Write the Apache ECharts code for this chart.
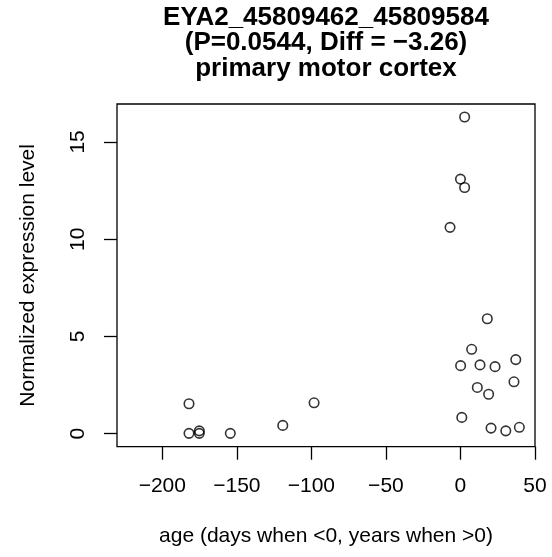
<!DOCTYPE html>
<html>
<head>
<meta charset="utf-8">
<script src="https://cdn.jsdelivr.net/npm/echarts@6/dist/echarts.min.js"></script>
<style>html,body{margin:0;padding:0;background:#fff}#c{width:552px;height:557px}</style>
</head>
<body>
<div id="c"></div>
<script>
var titleLines = ["EYA2_45809462_45809584", "(P=0.0544, Diff = \u22123.26)", "primary motor cortex"];
var xName = "age (days when <0, years when >0)";
var yName = "Normalized expression level";
var ages = [-182.1, -182.1, -175.2, -175.2, -154.4, -119.2, -98.2, 2.8, 0.0, 2.8, -7.0, 18.0, 7.5, 0.1, 13.1, 23.2, 37.1, 11.3, 18.9, 35.9, 0.9, 20.5, 30.4, 39.5];
var expr = [1.54, 0.02, 0.15, 0.02, 0.02, 0.43, 1.59, 16.28, 13.09, 12.66, 10.61, 5.91, 4.34, 3.50, 3.54, 3.45, 3.81, 2.38, 2.03, 2.67, 0.84, 0.29, 0.15, 0.33];
var xTicks = [-200, -150, -100, -50, 0, 50];
var yTicks = [0, 5, 10, 15];

var points = ages.map(function (a, i) { return [a, expr[i]]; });
var fmt = function (v) { return v < 0 ? "\u2212" + Math.abs(v) : String(v); };
var font = "Liberation Sans, Arial, Helvetica, sans-serif";

var chart = echarts.init(document.getElementById('c'), null, { renderer: 'canvas' });
chart.setOption({
  animation: false,
  backgroundColor: '#fff',
  textStyle: { fontFamily: font },
  title: {
    text: titleLines.join('\n'),
    left: 326, top: 5, padding: 0, textAlign: 'center',
    textStyle: { fontFamily: font, fontSize: 26, fontWeight: 'bold', color: '#000', lineHeight: 25.5 }
  },
  grid: { left: 117, right: 17, top: 104, bottom: 110.3, show: true, borderColor: '#000', borderWidth: 1.3, backgroundColor: 'transparent' },
  xAxis: {
    type: 'value', min: -230.4, max: 50,
    name: xName, nameLocation: 'middle', nameGap: 79,
    nameTextStyle: { fontFamily: font, fontSize: 21, color: '#000' },
    axisLine: { show: false, onZero: false },
    splitLine: { show: false },
    axisTick: { show: true, inside: false, length: 13, customValues: xTicks, lineStyle: { color: '#000', width: 1.3 } },
    axisLabel: { show: true, margin: 29, customValues: xTicks, formatter: fmt, fontFamily: font, fontSize: 21, color: '#000' }
  },
  yAxis: {
    type: 'value', min: -0.666, max: 16.95,
    name: yName, nameLocation: 'middle', nameGap: 78, nameRotate: 90,
    nameTextStyle: { fontFamily: font, fontSize: 21, color: '#000' },
    axisLine: { show: false, onZero: false },
    splitLine: { show: false },
    axisTick: { show: true, inside: false, length: 13, customValues: yTicks, lineStyle: { color: '#000', width: 1.3 } },
    axisLabel: { show: true, margin: 28, rotate: 90, customValues: yTicks, formatter: fmt, fontFamily: font, fontSize: 21, color: '#000' }
  },
  series: [{
    type: 'scatter',
    data: points,
    symbol: 'circle',
    symbolSize: 9.5,
    itemStyle: { color: 'transparent', borderColor: '#000', borderWidth: 1.6 },
    emphasis: { disabled: true }
  }]
});
</script>
</body>
</html>
